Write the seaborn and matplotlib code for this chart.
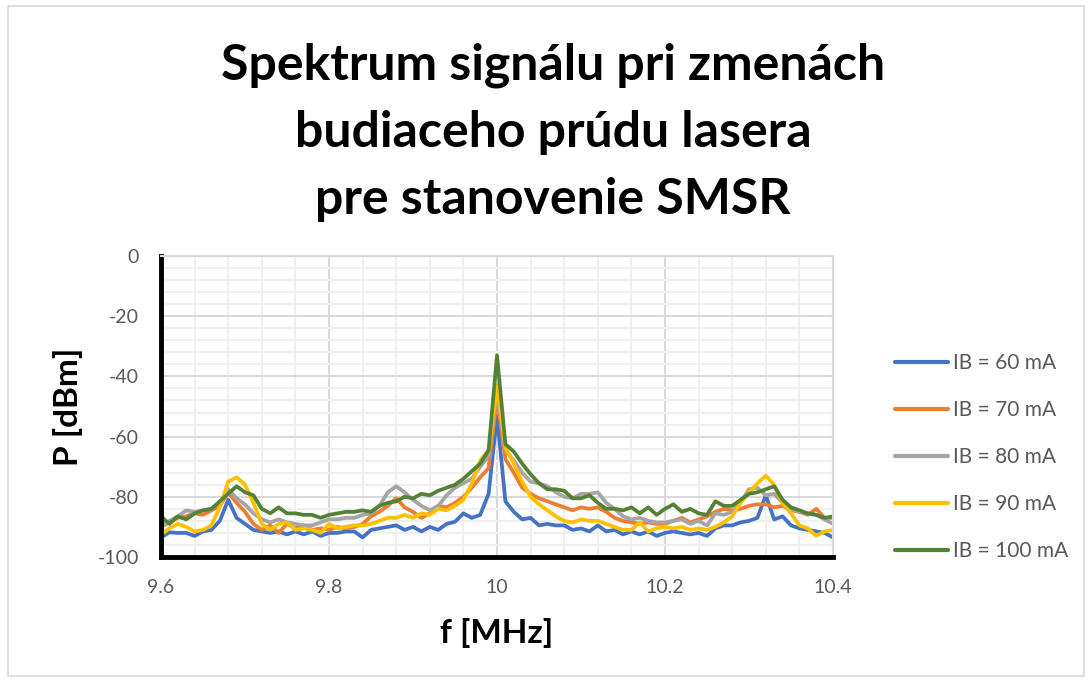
import pandas as pd
import matplotlib
matplotlib.use("Agg")
import matplotlib.pyplot as plt
import seaborn as sns
from matplotlib.ticker import MultipleLocator, FuncFormatter
from matplotlib.patches import Rectangle

# --- data (step 0.01 MHz) ---
freq = [9.60, 9.61, 9.62, 9.63, 9.64, 9.65, 9.66, 9.67, 9.68, 9.69, 9.70,
        9.71, 9.72, 9.73, 9.74, 9.75, 9.76, 9.77, 9.78, 9.79, 9.80,
        9.81, 9.82, 9.83, 9.84, 9.85, 9.86, 9.87, 9.88, 9.89, 9.90,
        9.91, 9.92, 9.93, 9.94, 9.95, 9.96, 9.97, 9.98, 9.99, 10.00,
        10.01, 10.02, 10.03, 10.04, 10.05, 10.06, 10.07, 10.08, 10.09, 10.10,
        10.11, 10.12, 10.13, 10.14, 10.15, 10.16, 10.17, 10.18, 10.19, 10.20,
        10.21, 10.22, 10.23, 10.24, 10.25, 10.26, 10.27, 10.28, 10.29, 10.30,
        10.31, 10.32, 10.33, 10.34, 10.35, 10.36, 10.37, 10.38, 10.39, 10.40]

ib_60 = [-93.5, -91.8, -92, -92, -93, -91.5, -91, -88, -81, -87, -89, -91, -91.5, -92, -91.5, -92.5, -91.5, -92.5, -91.5, -93, -92,
         -92, -91.5, -91.5, -93.5, -91, -90.5, -90, -89.5, -91, -90, -91.5, -90, -91, -89, -88.3, -85.5, -87, -86, -79, -53,
         -81.5, -85, -87.5, -87, -89.5, -89, -89.5, -89.5, -91, -90.5, -91.5, -89.5, -91.5, -91, -92.5, -91.5, -92.5, -91.5, -93, -92,
         -91.5, -92, -92.5, -92, -93, -90.5, -89.5, -89.5, -88.5, -88, -87, -79.5, -87.5, -86.5, -89.5, -90.5, -91, -91.5, -92, -93.5]

ib_70 = [-90, -88.5, -87, -86.5, -85.5, -86, -84.5, -83, -78.5, -82, -85, -89, -91, -89.5, -92, -89, -90.5, -89.5, -91, -90.5, -91,
         -90, -90.5, -90, -89, -86.5, -85, -83, -80.5, -83.5, -85, -87, -85.5, -83, -83.5, -82, -80, -77, -73.5, -70.5, -47,
         -67.5, -72, -77, -79, -80.5, -81.5, -82.5, -83.5, -84.5, -83.5, -84, -83.5, -85, -87, -88, -88.5, -89, -88.5, -89, -89,
         -88, -87, -88.5, -87.5, -86.5, -85, -84, -84.5, -84, -83, -82.5, -82.5, -83.5, -83, -84.5, -85, -86, -84, -87, -87]

ib_80 = [-90, -88, -86.5, -84.5, -85, -84.5, -84, -82, -77.5, -80.5, -82.5, -85.5, -87.5, -88.5, -87.5, -88.5, -89, -89.5, -89.5, -88.5, -87.5,
         -87.5, -87, -87, -86, -85.5, -83, -78.5, -76.5, -78.5, -81, -83, -84.5, -83, -79.5, -77, -75.5, -74, -70, -66.5, -45,
         -64.5, -68, -72, -75, -75.5, -76.5, -78.5, -80, -80.5, -79, -79, -78.5, -82, -84, -86.5, -87.5, -87, -88, -88.5, -88.5,
         -88, -87.5, -89, -88, -89.5, -85.5, -86, -85, -82, -77.5, -77, -79.5, -79, -82, -84, -85, -85.5, -86, -87.5, -89]

ib_90 = [-92.5, -90.5, -89, -90, -91.5, -91, -89.5, -83.5, -75, -73.5, -76, -82, -89, -91, -89, -88.5, -91, -90.5, -91, -92, -89,
         -90.5, -90, -89.5, -89.5, -89, -88, -87, -87, -86, -87, -85.5, -86, -84, -84.5, -83, -81, -75.5, -68, -64.5, -43,
         -63.5, -69, -75, -80, -82.5, -84.5, -86.5, -88, -88.5, -87.5, -88, -88, -89, -90, -91, -91, -88.5, -91.5, -90.5, -90,
         -90.5, -90, -91, -90.5, -91, -90, -88.5, -86.5, -82, -78.5, -75.5, -73, -76, -82, -85.5, -89.5, -90.5, -93, -91.5, -91]

ib_100 = [-86.5, -89, -86.5, -87.5, -85.5, -84.5, -84, -81.5, -79, -76.5, -78.5, -79.5, -84, -85.5, -83.5, -85.5, -85.5, -86, -86, -87, -86,
          -85.5, -85, -85, -84.5, -85, -83, -82, -81.5, -80, -80.5, -79, -79.5, -78, -77, -76, -74, -71.5, -69, -64.5, -33,
          -62.5, -65, -69, -72.5, -75.5, -77.5, -77.5, -78, -80.5, -80.5, -79.5, -82, -84, -84, -84.5, -83.5, -85.5, -83.5, -86, -84,
          -82.5, -85, -84, -85.5, -86, -81.5, -83, -83, -81, -79, -78.5, -77.5, -76.5, -81, -83.5, -84.5, -85.5, -86, -87, -86.5]

series_labels = ["IB = 60 mA", "IB = 70 mA", "IB = 80 mA", "IB = 90 mA", "IB = 100 mA"]
series_values = [ib_60, ib_70, ib_80, ib_90, ib_100]
colors = ["#4472C4", "#ED7D31", "#A5A5A5", "#FFC000", "#548235"]

# --- style ---
sns.set_style("white")
plt.rcParams['font.family'] = ['Lato', 'DejaVu Sans']
plt.rcParams['axes.unicode_minus'] = False
TEXT_GRAY = "#595959"

df = pd.concat(
    [pd.DataFrame({"f": freq, "P": vals, "series": lab}) for lab, vals in zip(series_labels, series_values)],
    ignore_index=True)

fig = plt.figure(figsize=(10.9, 6.82), dpi=100)
ax = fig.add_axes([161 / 1090, 1 - 557 / 682, 672 / 1090, 301 / 682])

sns.lineplot(data=df, x="f", y="P", hue="series", hue_order=series_labels,
             palette=colors, linewidth=2.7, ax=ax, legend=False, sort=False)

ax.set_xlim(9.6, 10.4)
ax.set_ylim(-100, 0)
ax.xaxis.set_major_locator(MultipleLocator(0.2))
ax.xaxis.set_minor_locator(MultipleLocator(0.04))
ax.yaxis.set_major_locator(MultipleLocator(20))
ax.yaxis.set_minor_locator(MultipleLocator(4))
ax.xaxis.set_major_formatter(FuncFormatter(lambda v, p: f"{v:g}"))
ax.set_axisbelow(True)
ax.grid(which="minor", color="#f0f0f0", linewidth=1.5)
ax.grid(which="major", color="#d9d9d9", linewidth=1.5)
ax.tick_params(which="both", length=0)
ax.tick_params(axis="x", pad=16, labelsize=14, labelcolor=TEXT_GRAY)
ax.tick_params(axis="y", pad=16, labelsize=14, labelcolor=TEXT_GRAY)

for side in ["top", "right"]:
    ax.spines[side].set_color("#d9d9d9")
    ax.spines[side].set_linewidth(1.5)
for side in ["left", "bottom"]:
    ax.spines[side].set_color("black")
    ax.spines[side].set_linewidth(3.5)

ax.set_xlabel("f [MHz]", fontsize=24, fontweight="bold", color="black")
ax.set_ylabel("P [dBm]", fontsize=24, fontweight="bold", color="black")
ax.xaxis.set_label_coords(0.5, -0.2525)
ax.xaxis.label.set_va("center")
ax.yaxis.set_label_coords(-0.138, 0.5)
ax.yaxis.label.set_va("center")

# title
fig.text(553 / 1090, 1 - 132 / 682,
         "Spektrum signálu pri zmenách\nbudiaceho prúdu lasera\npre stanovenie SMSR",
         ha="center", va="center", fontsize=36, fontweight="bold",
         linespacing=1.6, color="black")

# legend
handles = [plt.Line2D([], [], color=c, linewidth=3) for c in colors]
leg = fig.legend(handles, series_labels, loc="center left",
                 bbox_to_anchor=(895 / 1090, 1 - 457 / 682),
                 frameon=False, fontsize=15, handlelength=2.55,
                 handletextpad=0.25, labelspacing=1.3, borderpad=0, borderaxespad=0)
for t in leg.get_texts():
    t.set_color(TEXT_GRAY)

# chart area border
fig.patches.append(Rectangle((8 / 1090, 6 / 682), 1076 / 1090, 670 / 682,
                             transform=fig.transFigure, fill=False,
                             edgecolor="#d9d9d9", linewidth=1.2))

fig.savefig("out.png", dpi=100)
